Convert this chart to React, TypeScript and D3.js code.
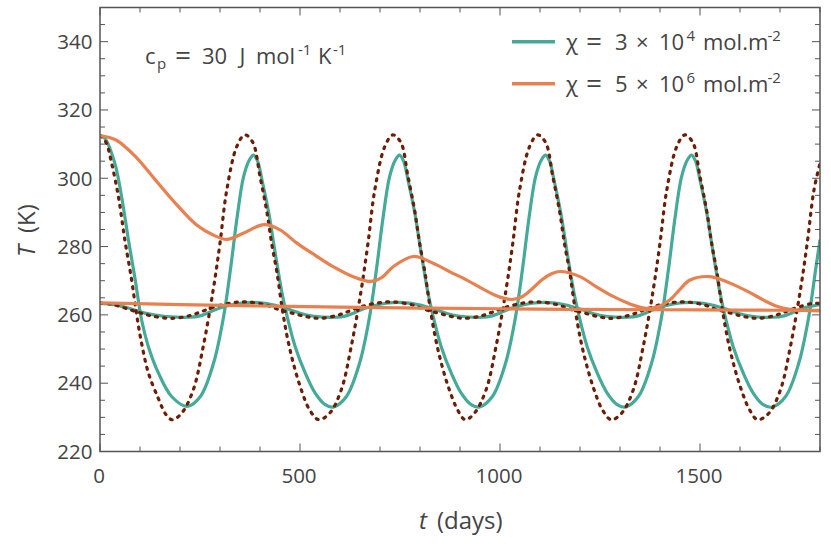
import React from 'react';
import * as d3 from 'd3';

const W = 831;
const H = 544;
const X0 = 100, X1 = 820, Y0 = 451.5, Y1 = 7.5;

const xDomain = [0, 1800];
const yDomain = [220, 350];
const xTicks = [0, 500, 1000, 1500];
const yTicks = [220, 240, 260, 280, 300, 320, 340];

// dotted, large amplitude
const d1Days = [0, 15, 29, 46, 62, 79, 91, 104, 121, 146, 165, 181,
  204, 233, 258, 283, 300, 317, 342, 362,
  382, 400, 417, 429, 442, 456, 469, 483, 502, 524, 547,
  574, 603, 628, 653, 670, 687, 712, 732,
  752, 770, 787, 799, 812, 826, 839, 853, 872, 894, 913,
  936, 965, 990, 1015, 1032, 1049, 1074, 1094,
  1114, 1132, 1149, 1161, 1174, 1188, 1201, 1215, 1234, 1256, 1278,
  1304, 1333, 1358, 1383, 1400, 1417, 1442, 1462,
  1482, 1500, 1517, 1529, 1542, 1556, 1569, 1583, 1602, 1624, 1644,
  1672, 1701, 1726, 1751, 1768, 1785, 1800];
const d1Temp = [312.5, 310.5, 304.4, 294.6, 282, 270.3, 260.5, 251.7, 243, 235.5, 230.8, 229.3,
  231.2, 238, 250.7, 267.3, 281, 296.6, 309.3, 312.7,
  310.5, 300.5, 290.3, 281, 272.7, 261.5, 253, 246, 238.5, 232.2, 229.3,
  231.2, 238, 250.7, 267.3, 281, 296.6, 309.3, 312.7,
  310.5, 300.5, 290.3, 281, 272.7, 261.5, 253, 246, 238.5, 232.2, 229.3,
  231.2, 238, 250.7, 267.3, 281, 296.6, 309.3, 312.7,
  310.5, 300.5, 290.3, 281, 272.7, 261.5, 253, 246, 238.5, 232.2, 229.3,
  231.2, 238, 250.7, 267.3, 281, 296.6, 309.3, 312.7,
  310.5, 300.5, 290.3, 281, 272.7, 261.5, 253, 246, 238.5, 232.2, 229.3,
  231.2, 238, 250.7, 267.3, 281, 296.6, 304.4];

// dotted, small amplitude
const d2Days = [0, 30, 62, 100, 137, 181, 225, 250, 285, 323, 365, 415, 448, 481, 515, 548,
  591, 616, 651, 689, 731, 781, 814, 847, 880, 913, 956, 981, 1016, 1054, 1096, 1146, 1179, 1212, 1245, 1279,
  1321, 1346, 1381, 1419, 1461, 1511, 1544, 1577, 1610, 1644, 1686, 1711, 1746, 1784, 1800];
const d2Temp = [263.5, 263.1, 262.0, 260.6, 259.5, 259.0, 259.8, 260.8, 262.3, 263.4, 263.8, 262.9, 261.5, 260.5, 259.5, 259.0,
  259.8, 260.8, 262.3, 263.4, 263.8, 262.9, 261.5, 260.5, 259.5, 259.0, 259.8, 260.8, 262.3, 263.4, 263.8, 262.9, 261.5, 260.5, 259.5, 259.0,
  259.8, 260.8, 262.3, 263.4, 263.8, 262.9, 261.5, 260.5, 259.5, 259.0, 259.8, 260.8, 262.3, 263.4, 263.3];

// χ = 3e4, large amplitude
const g1Days = [0, 12, 37, 54, 71, 88, 104, 121, 146, 179, 218,
  251, 284, 309, 326, 343, 359, 374, 384,
  394, 405, 422, 438, 455, 468, 488, 513, 538, 563, 583,
  616, 649, 674, 691, 708, 724, 739, 749,
  759, 770, 787, 803, 820, 833, 853, 878, 903, 928, 948,
  981, 1014, 1039, 1056, 1073, 1089, 1104, 1114,
  1124, 1135, 1152, 1168, 1185, 1198, 1218, 1243, 1268, 1293, 1313,
  1346, 1379, 1404, 1421, 1438, 1454, 1469, 1479,
  1489, 1500, 1517, 1533, 1550, 1563, 1583, 1608, 1633, 1658, 1680,
  1714, 1747, 1772, 1789, 1800];
const g1Temp = [312.5, 311.7, 304.4, 294.6, 282, 270.3, 258.5, 250.7, 243, 236.1, 233.2,
  236.1, 245.9, 259.5, 273.2, 288.8, 300.5, 305.5, 306.8,
  305, 299.5, 289.8, 278.1, 266.4, 259.5, 250.7, 243, 237.1, 233.7, 233,
  236.1, 245.9, 259.5, 273.2, 288.8, 300.5, 305.5, 306.8,
  305, 299.5, 289.8, 278.1, 266.4, 259.5, 250.7, 243, 237.1, 233.7, 233,
  236.1, 245.9, 259.5, 273.2, 288.8, 300.5, 305.5, 306.8,
  305, 299.5, 289.8, 278.1, 266.4, 259.5, 250.7, 243, 237.1, 233.7, 233,
  236.1, 245.9, 259.5, 273.2, 288.8, 300.5, 305.5, 306.8,
  305, 299.5, 289.8, 278.1, 266.4, 259.5, 250.7, 243, 237.1, 233.7, 233,
  236.1, 245.9, 259.5, 273.2, 282];

// χ = 3e4, small amplitude
const g2Days = [0, 35, 71, 112, 160, 225, 250, 300, 350, 395, 435, 475, 500, 535, 590,
  615, 665, 715, 760, 800, 840, 865, 900, 955, 980, 1030, 1080, 1125, 1165, 1205, 1230, 1265, 1320,
  1345, 1395, 1445, 1490, 1530, 1570, 1595, 1630, 1685, 1710, 1760, 1800];
const g2Temp = [263.4, 263.0, 262.0, 260.5, 259.6, 259.3, 259.7, 262.0, 263.4, 263.6, 262.9, 261.5, 260.5, 259.6, 259.3,
  259.7, 262.0, 263.4, 263.6, 262.9, 261.5, 260.5, 259.6, 259.3, 259.7, 262.0, 263.4, 263.6, 262.9, 261.5, 260.5, 259.6, 259.3,
  259.7, 262.0, 263.4, 263.6, 262.9, 261.5, 260.5, 259.6, 259.3, 259.7, 262.0, 263.0];

// χ = 5e6, decaying from the warm start
const o1Days = [0, 40, 90, 140, 190, 240, 283, 317, 358, 410, 450, 492, 540, 583, 630, 675, 705, 733, 783, 833,
  875, 917, 960, 1000, 1030, 1055, 1080, 1105, 1130, 1150, 1200, 1240, 1283, 1325, 1367, 1400, 1425, 1450, 1475,
  1525, 1575, 1620, 1658, 1690, 1725, 1760, 1800];
const o1Temp = [312.5, 311.2, 306.2, 299.3, 292.5, 286.5, 283.4, 282.1, 283.9, 286.4, 284.9, 281, 277.3, 274.1, 271.3, 269.8, 271, 274.1, 277.1, 275.1,
  272.6, 270.2, 267.4, 265.2, 264.5, 265.3, 267.6, 270.3, 272.1, 272.7, 271.2, 268.3, 265.4, 263.2, 261.9, 262.6, 264.4, 267.5, 270.2,
  271.2, 269.3, 266.8, 264.4, 262.6, 261.6, 261.3, 261.2];

// χ = 5e6, cool start
const o2Days = [0, 200, 400, 600, 800, 1000, 1200, 1400, 1600, 1800];
const o2Temp = [263.5, 263.0, 262.6, 262.3, 262.0, 261.8, 261.6, 261.5, 261.4, 261.3];

const TEAL = '#45aa97';
const ORANGE = '#e8804f';
const DARK = '#6b1e03';
const AXIS = '#555555';
const TEXT = '#444444';
const FONT = "'Open Sans', 'DejaVu Sans', sans-serif";

type Piece = [number, number, string, number];

function Pieces({ items }: { items: Piece[] }) {
  return (
    <g fill={TEXT} fontFamily={FONT}>
      {items.map(([px, py, s, size], i) => (
        <text key={i} x={px} y={py} fontSize={size}>
          {s}
        </text>
      ))}
    </g>
  );
}

function legendPieces(b: number, mant: string, exp: string): Piece[] {
  return [
    [566, b, 'χ', 22],
    [586, b + 1, '=', 28],
    [615, b, mant, 22],
    [636, b, '×', 22],
    [659, b, '10', 22],
    [686.5, b - 9, exp, 15],
    [703, b, 'mol.m', 22],
    [767.5, b - 9, '-2', 15],
  ];
}

const annotation: Piece[] = [
  [145, 64, 'c', 22],
  [157, 69, 'p', 15],
  [175, 65, '=', 28],
  [202, 64, '30', 22],
  [239.5, 64, 'J', 22],
  [256, 64, 'mol', 22],
  [298, 55, '-1', 15],
  [318, 64, 'K', 22],
  [333, 55, '-1', 15],
];

export default function App() {
  const x = d3.scaleLinear().domain(xDomain).range([X0, X1]);
  const y = d3.scaleLinear().domain(yDomain).range([Y0, Y1]);
  const line = d3
    .line<[number, number]>()
    .x((d) => x(d[0]))
    .y((d) => y(d[1]))
    .curve(d3.curveCatmullRom.alpha(0.5));
  const path = (days: number[], temps: number[]) =>
    line(days.map((d, i) => [d, temps[i]] as [number, number])) || '';

  const xMinor = d3.range(0, 1801, 100);
  const yMinor = d3.range(220, 351, 5);
  const dash = { strokeDasharray: '2 6.2', strokeLinecap: 'round' as const };

  return (
    <div style={{ position: 'fixed', left: 0, top: 0 }}>
      <svg width={W} height={H} viewBox={`0 0 ${W} ${H}`} style={{ display: 'block', background: '#fff' }}>
        <defs>
          <clipPath id="plot">
            <rect x={X0} y={Y1} width={X1 - X0} height={Y0 - Y1} />
          </clipPath>
        </defs>
        <g clipPath="url(#plot)" fill="none" strokeLinejoin="round">
          <path d={path(g1Days, g1Temp)} stroke={TEAL} strokeWidth={3.2} />
          <path d={path(g2Days, g2Temp)} stroke={TEAL} strokeWidth={3.2} />
          <path d={path(d1Days, d1Temp)} stroke={DARK} strokeWidth={3.2} {...dash} />
          <path d={path(d2Days, d2Temp)} stroke={DARK} strokeWidth={3.2} {...dash} />
          <path d={path(o1Days, o1Temp)} stroke={ORANGE} strokeWidth={3.2} />
          <path d={path(o2Days, o2Temp)} stroke={ORANGE} strokeWidth={3.2} />
        </g>

        {/* ticks */}
        <g stroke={AXIS} strokeWidth={1}>
          {xMinor.map((v) => {
            const len = v % 500 === 0 ? 8 : 5;
            return (
              <g key={'x' + v}>
                <line x1={x(v)} x2={x(v)} y1={Y0} y2={Y0 - len} />
                <line x1={x(v)} x2={x(v)} y1={Y1} y2={Y1 + len} />
              </g>
            );
          })}
          {yMinor.map((v) => {
            const len = v % 20 === 0 ? 8 : 5;
            return (
              <g key={'y' + v}>
                <line x1={X0} x2={X0 + len} y1={y(v)} y2={y(v)} />
                <line x1={X1} x2={X1 - len} y1={y(v)} y2={y(v)} />
              </g>
            );
          })}
        </g>
        <rect x={X0} y={Y1} width={X1 - X0} height={Y0 - Y1} fill="none" stroke={AXIS} strokeWidth={1.5} />

        {/* tick labels */}
        <g fill={TEXT} fontFamily={FONT} fontSize={20.5}>
          {xTicks.map((v) => (
            <text key={'xl' + v} x={x(v) - 1} y={483} textAnchor="middle">
              {v}
            </text>
          ))}
          {yTicks.map((v) => (
            <text key={'yl' + v} x={92.5} y={y(v) + 7.3} textAnchor="end">
              {v}
            </text>
          ))}
        </g>

        {/* axis titles */}
        <text y={529} fill={TEXT} fontFamily={FONT} fontSize={24}>
          <tspan x={419} fontStyle="italic">t</tspan>
          <tspan x={437}>(days)</tspan>
        </text>
        <text transform="translate(35,229) rotate(-90)" fill={TEXT} fontFamily={FONT} fontSize={24}>
          <tspan x={-28} fontStyle="italic">T</tspan>
          <tspan x={-4}>(K)</tspan>
        </text>

        {/* annotation */}
        <Pieces items={annotation} />

        {/* legend */}
        <line x1={512} x2={555} y1={41.7} y2={41.7} stroke={TEAL} strokeWidth={3.5} />
        <line x1={512} x2={555} y1={83.7} y2={83.7} stroke={ORANGE} strokeWidth={3.5} />
        <Pieces items={legendPieces(50, '3', '4')} />
        <Pieces items={legendPieces(92, '5', '6')} />
      </svg>
    </div>
  );
}
